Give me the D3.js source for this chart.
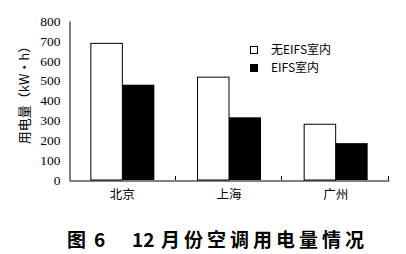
<!DOCTYPE html>
<html>
<head>
<meta charset="utf-8">
<script src="https://cdn.jsdelivr.net/npm/d3@7"></script>
<style>
  body { margin: 0; background: #fff; }
  svg { display: block; }
</style>
</head>
<body>
<svg width="406" height="254"></svg>
<script>
//	data
var cities = ["北京", "上海", "广州"];
var seriesNames = ["无EIFS室内", "EIFS室内"];
var noEifs = [690, 520, 283];
var withEifs = [482, 318, 188];
var yTicks = [0, 100, 200, 300, 400, 500, 600, 700, 800];

var svg = d3.select("svg"),
        margin = {left: 69, right: 17, top: 21, bottom: 74},
        width = +svg.attr("width") - margin.left - margin.right,
        height = +svg.attr("height") - margin.top - margin.bottom;

var g = svg.append("g").attr("transform", "translate(" + margin.left + "," + margin.top + ")");

var x = d3.scaleBand().domain(cities).range([0, width]).paddingInner(0.4).paddingOuter(0.2);
var xs = d3.scaleBand().domain(seriesNames).range([0, x.bandwidth()]);
var y = d3.scaleLinear().domain([0, 800]).range([height, 0]);
var fills = ["#fff", "#000"];

var rows = cities.map(function (c, i) {
    return {city: c, values: [noEifs[i], withEifs[i]]};
});

//	bars
var grp = g.selectAll(".grp").data(rows).enter().append("g")
        .attr("transform", function (d) { return "translate(" + x(d.city) + ",0)"; });
grp.selectAll("rect").data(function (d) {
    return d.values.map(function (v, j) { return {name: seriesNames[j], v: v, j: j}; });
}).enter().append("rect")
        .attr("x", function (d) { return xs(d.name) + (d.j === 0 ? 0.5 : 0); })
        .attr("y", function (d) { return y(d.v) + 0.5; })
        .attr("width", function (d) { return xs.bandwidth() - (d.j === 0 ? 0.5 : 0); })
        .attr("height", function (d) { return height - y(d.v) - 0.5; })
        .attr("fill", function (d) { return fills[d.j]; })
        .attr("stroke", "#000")
        .attr("stroke-width", function (d) { return d.j === 0 ? 1 : 0; });

//	y axis
var yAxis = g.append("g").attr("transform", "translate(0.5,0)")
        .call(d3.axisLeft(y).tickValues(yTicks).tickSize(0).tickPadding(9));
yAxis.attr("font-family", null);
yAxis.select(".domain").attr("stroke", "#000");
yAxis.selectAll("text")
        .style("font-family", "'Times New Roman', 'Liberation Serif', 'DejaVu Serif', serif")
        .style("font-size", "13.5px")
        .attr("fill", "#000");

//	x axis
var xAxis = g.append("g").attr("transform", "translate(0," + (height + 0.5) + ")")
        .call(d3.axisBottom(x).tickSize(0).tickPadding(10));
xAxis.select(".domain").attr("stroke", "#000");
xAxis.selectAll("text")
        .style("font-family", "'Noto Sans CJK SC'")
        .style("font-size", "12.5px")
        .attr("fill", "#000");
//	small ticks between groups
var seps = [x(cities[1]) - x.step() * x.paddingInner() / 2, x(cities[2]) - x.step() * x.paddingInner() / 2, width];
g.selectAll(".sep").data(seps).enter().append("line")
        .attr("x1", function (d) { return Math.round(d) - 0.5; })
        .attr("x2", function (d) { return Math.round(d) - 0.5; })
        .attr("y1", height).attr("y2", height - 4)
        .attr("stroke", "#000");

//	y label
svg.append("text")
        .attr("transform", "translate(29,92) rotate(-90)")
        .attr("text-anchor", "middle")
        .style("font-family", "'Noto Sans CJK SC'")
        .style("font-size", "13px")
        .text("用电量（kW·h）");

//	legend
var leg = svg.append("g").attr("transform", "translate(250,46)");
seriesNames.forEach(function (n, i) {
    leg.append("rect").attr("x", 0.5).attr("y", i * 18 + 0.5).attr("width", 7).attr("height", 7)
            .attr("fill", fills[i]).attr("stroke", "#000");
    leg.append("text").attr("x", 21).attr("y", i * 18 + 8)
            .style("font-family", "'Noto Sans CJK SC'")
            .style("font-size", "12px")
            .text(n);
});

//	caption, placed in pieces like the printed figure
var cap = svg.append("g")
        .style("font-family", "'Noto Sans CJK SC'")
        .style("font-weight", "bold")
        .style("font-size", "19px");
cap.append("text").attr("x", 67).attr("y", 247).text("图");
cap.append("text").attr("x", 94).attr("y", 247).text("6");
cap.append("text").attr("x", 132).attr("y", 247).text("12");
cap.append("text").attr("x", 161).attr("y", 247).style("letter-spacing", "4px").text("月份空调用电量情况");
</script>
</body>
</html>
